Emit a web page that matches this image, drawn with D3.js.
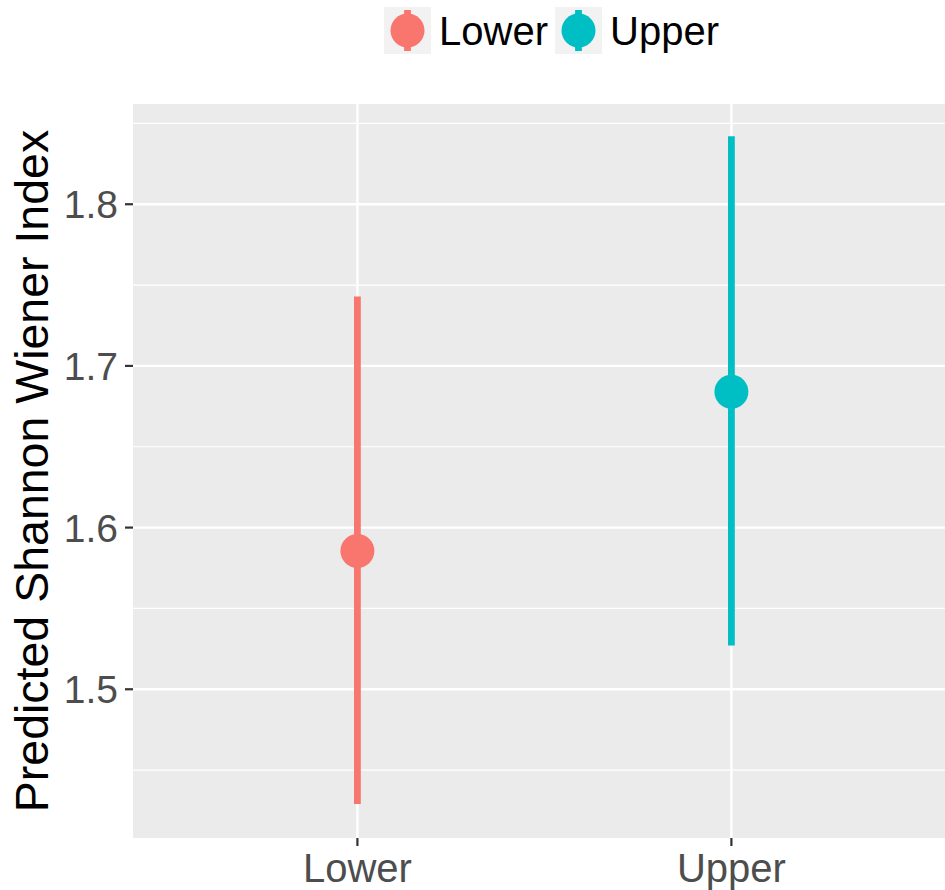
<!DOCTYPE html>
<html><head><meta charset="utf-8">
<script src="https://cdn.jsdelivr.net/npm/d3@7"></script>
<style>body{margin:0;background:#fff}svg{display:block}text{font-family:"Liberation Sans",Arial,sans-serif}</style>
</head><body><svg id="c" width="945" height="890"></svg>
<script>
const categories = ["Lower", "Upper"];
const estimates = [1.5855, 1.684];
const lowerCI = [1.429, 1.527];
const upperCI = [1.743, 1.842];
const yTicks = [1.5, 1.6, 1.7, 1.8];
const yMinor = [1.45, 1.55, 1.65, 1.75, 1.85];
const colors = ["#F8766D", "#00BFC4"];

const svg = d3.select("#c");
const L = 133, T = 104, B = 838;
const unit = 374;
const R = L + unit * 2.2;

const x = d3.scalePoint().domain(categories).range([L + unit * 0.6, L + unit * 1.6]);
const y = d3.scaleLinear().domain([1.408, 1.862]).range([B, T]);

svg.append("defs").append("clipPath").attr("id","clip").append("rect")
  .attr("x", L).attr("y", T).attr("width", R - L).attr("height", B - T);

svg.append("rect").attr("x", L).attr("y", T).attr("width", R - L).attr("height", B - T).attr("fill", "#EBEBEB");
const g = svg.append("g").attr("clip-path", "url(#clip)");
g.selectAll(".minor").data(yMinor).join("line")
  .attr("x1", L).attr("x2", R).attr("y1", d => y(d)).attr("y2", d => y(d))
  .attr("stroke", "#fff").attr("stroke-width", 1.2);
g.selectAll(".major").data(yTicks).join("line")
  .attr("x1", L).attr("x2", R).attr("y1", d => y(d)).attr("y2", d => y(d))
  .attr("stroke", "#fff").attr("stroke-width", 2.4);
g.selectAll(".vmajor").data(categories).join("line")
  .attr("x1", d => x(d)).attr("x2", d => x(d)).attr("y1", T).attr("y2", B)
  .attr("stroke", "#fff").attr("stroke-width", 2.4);

// error bars
g.selectAll(".err").data(categories).join("line")
  .attr("x1", d => x(d)).attr("x2", d => x(d))
  .attr("y1", (d,i) => y(lowerCI[i])).attr("y2", (d,i) => y(upperCI[i]))
  .attr("stroke", (d,i) => colors[i]).attr("stroke-width", 6.8);
g.selectAll(".pt").data(categories).join("circle")
  .attr("cx", d => x(d)).attr("cy", (d,i) => y(estimates[i])).attr("r", 17)
  .attr("fill", (d,i) => colors[i]);

// y axis
const ya = svg.append("g");
yTicks.forEach(t => {
  ya.append("line").attr("x1", L - 8).attr("x2", L).attr("y1", y(t)).attr("y2", y(t))
    .attr("stroke", "#333").attr("stroke-width", 2.2);
  ya.append("text").attr("x", L - 15).attr("y", y(t)).attr("dy", "0.36em")
    .attr("text-anchor", "end").attr("font-size", 39).attr("fill", "#4D4D4D").text(t.toFixed(1));
});
// x axis
categories.forEach(c => {
  ya.append("line").attr("x1", x(c)).attr("x2", x(c)).attr("y1", B).attr("y2", B + 8)
    .attr("stroke", "#333").attr("stroke-width", 2.2);
  ya.append("text").attr("x", x(c)).attr("y", 882).attr("text-anchor", "middle")
    .attr("font-size", 40).attr("fill", "#4D4D4D").text(c);
});
svg.append("text").attr("transform", `translate(48,${(T + B) / 2}) rotate(-90)`)
  .attr("text-anchor", "middle").attr("font-size", 46.5).attr("fill", "#000")
  .text("Predicted Shannon Wiener Index");

// legend
const legX = [384, 555];
categories.forEach((c, i) => {
  const lg = svg.append("g").attr("transform", `translate(${legX[i]},7)`);
  lg.append("rect").attr("width", 47).attr("height", 47).attr("fill", "#F2F2F2");
  lg.append("line").attr("x1", 23.5).attr("x2", 23.5).attr("y1", 3).attr("y2", 44)
    .attr("stroke", colors[i]).attr("stroke-width", 6.8);
  lg.append("circle").attr("cx", 23.5).attr("cy", 23.5).attr("r", 17).attr("fill", colors[i]);
  lg.append("text").attr("x", 55).attr("y", 38)
    .attr("font-size", 40).attr("fill", "#000").text(c);
});
</script></body></html>
